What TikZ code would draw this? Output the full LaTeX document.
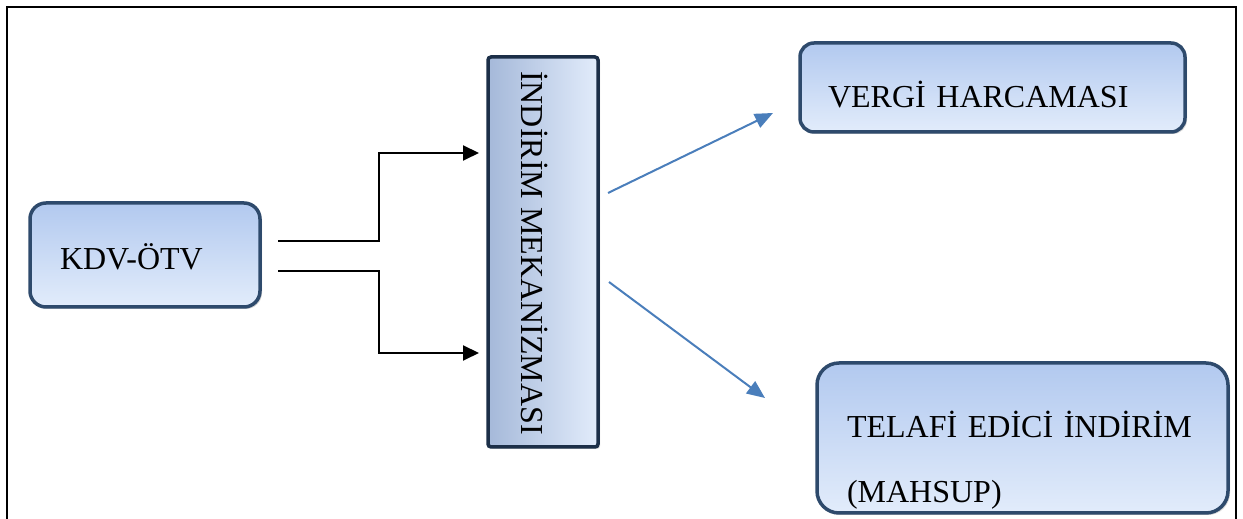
\documentclass[tikz,border=0pt]{standalone}
\usepackage{fontspec}
\setmainfont{Liberation Serif}
\usetikzlibrary{arrows.meta}
\usetikzlibrary{shadows}
\definecolor{kenar}{HTML}{2E4A6C}
\definecolor{koyukenar}{HTML}{1C2F48}
\definecolor{ust}{HTML}{B2C9EF}
\definecolor{alt}{HTML}{E2ECFB}
\definecolor{okmavi}{HTML}{4A7EBB}

\begin{document}
\begin{tikzpicture}[x=1pt, y=1pt,
    kutu/.style={draw=kenar, line width=3.5pt, rounded corners=#1,
      top color=ust, bottom color=alt,
      drop shadow={opacity=0.3, shadow xshift=2pt, shadow yshift=-2pt},
      font=\fontsize{32}{65}\selectfont, align=left},
    ok/.style={line width=2pt, -{Triangle[length=16pt, width=15pt]}},
    mavi/.style={draw=okmavi, line width=2pt, -{Triangle[length=18pt, width=15pt]}}]
      \useasboundingbox (0,0) rectangle (1243,519);
      \draw[line width=2.5pt] (7,0) -- (7,512) -- (1236,512) -- (1236,0);
      % kutular
      \node[kutu=16pt, minimum width=230pt, minimum height=104pt, inner xsep=30pt,
        text width=170pt, text height=29pt] (kdv) at (145,264) {KDV-ÖTV};
      \node[kutu=3pt, draw=koyukenar, minimum width=110pt, minimum height=390pt,
        left color=ust!90!black!95, right color=alt] (mekanizma) at (543,267) {};
      \node[rotate=-90, font=\fontsize{32}{38}\selectfont] (mekyazi) at (535,266) {İNDİRİM MEKANİZMASI};
      \node[kutu=14pt, minimum width=385pt, minimum height=89pt, inner xsep=28pt,
        text width=329pt, text height=40pt, text depth=0pt] (vergi) at (992.5,431.5) {VERGİ HARCAMASI};
      \node[kutu=22pt, minimum width=411pt, minimum height=150pt, inner xsep=30pt,
        text width=351pt, text height=71pt] (telafi) at (1022.5,81) {TELAFİ EDİCİ İNDİRİM\\(MAHSUP)};
      % oklar
      \coordinate (k1) at (278,277.5);
      \coordinate (k2) at (278,248.3);
      \coordinate (m1) at (479,366);
      \coordinate (m2) at (479,166);
      \draw[ok] (k1) -- ++(101,0) |- (m1);
      \draw[ok] (k2) -- ++(101,0) |- (m2);
      \coordinate (b1) at (608,326);
      \coordinate (b2) at (609,237);
      \coordinate (v1) at (773,406);
      \coordinate (t1) at (765,121);
      \draw[mavi] (b1) -- (v1);
      \draw[mavi] (b2) -- (t1);
\end{tikzpicture}
\end{document}
